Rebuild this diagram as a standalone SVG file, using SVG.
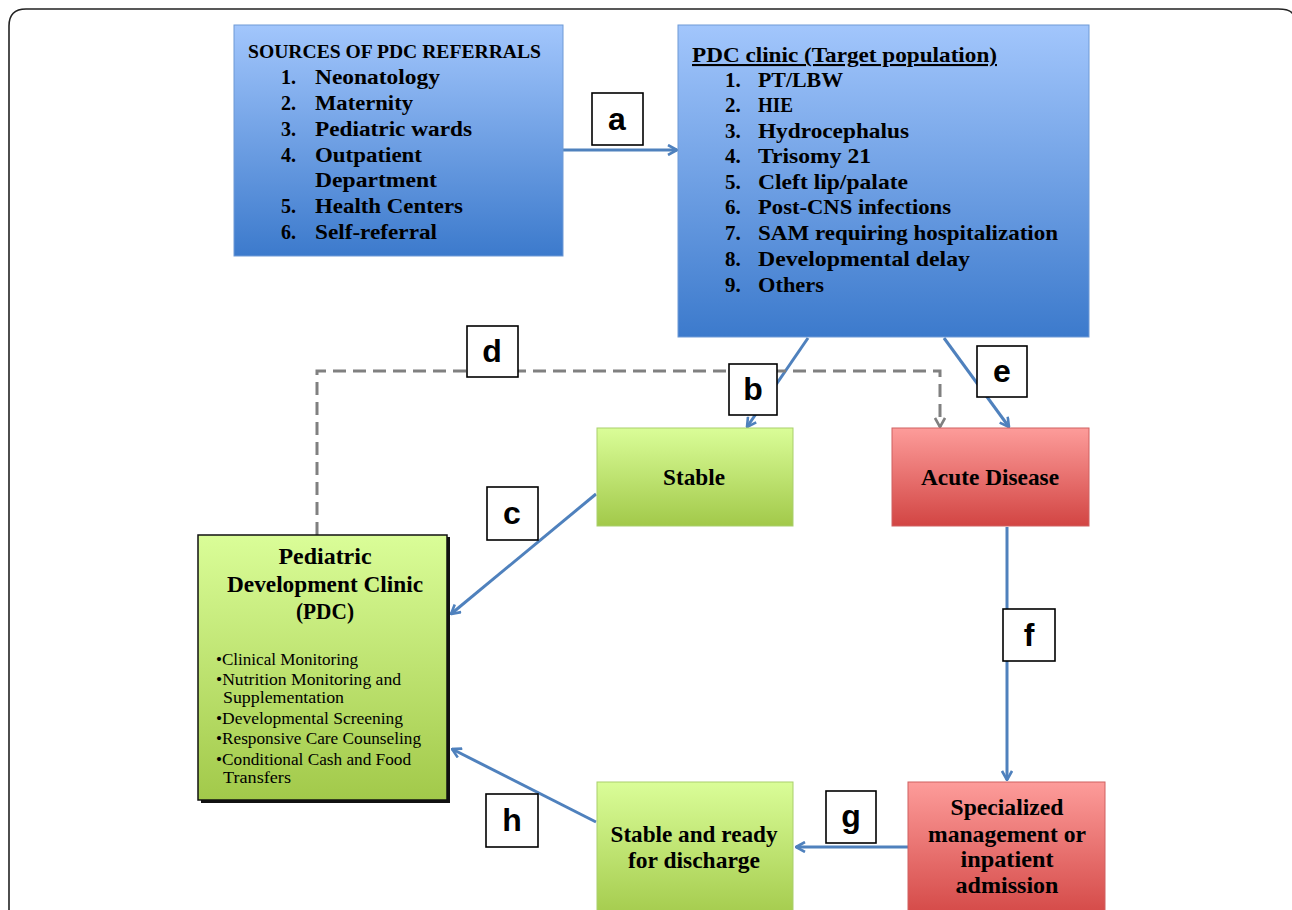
<svg xmlns="http://www.w3.org/2000/svg" width="1292" height="910" viewBox="0 0 1292 910">
<defs>
<linearGradient id="gBlue" x1="0" y1="0" x2="0" y2="1"><stop offset="0" stop-color="#a2c6fc"/><stop offset="1" stop-color="#3c7acc"/></linearGradient>
<linearGradient id="gGreen" x1="0" y1="0" x2="0" y2="1"><stop offset="0" stop-color="#dafd98"/><stop offset="1" stop-color="#a2c94a"/></linearGradient>
<linearGradient id="gRed" x1="0" y1="0" x2="0" y2="1"><stop offset="0" stop-color="#fd9c9a"/><stop offset="1" stop-color="#d24543"/></linearGradient>
<marker id="arrB" viewBox="0 0 12 12" refX="11" refY="6" markerWidth="12" markerHeight="12" markerUnits="userSpaceOnUse" orient="auto"><polyline points="2,1 11,6 2,11" fill="none" stroke="#4f81bd" stroke-width="2.6"/></marker>
<marker id="arrG" viewBox="0 0 12 12" refX="11" refY="6" markerWidth="12" markerHeight="12" markerUnits="userSpaceOnUse" orient="auto"><polyline points="2,1 11,6 2,11" fill="none" stroke="#808080" stroke-width="2.6"/></marker>
</defs>
<style>
.t{font-family:"Liberation Serif",serif;font-weight:bold;fill:#000}
.s{font-family:"Liberation Serif",serif;fill:#000;font-size:16px}
.lbl{font-family:"Liberation Sans",Arial,sans-serif;font-weight:bold;font-size:32px;fill:#000;text-anchor:middle}
.lb{fill:#fff;stroke:#000;stroke-width:1.6}
.con{fill:none;stroke:#4f81bd;stroke-width:3;marker-end:url(#arrB)}
.dash{fill:none;stroke:#808080;stroke-width:3;stroke-dasharray:13 7;marker-end:url(#arrG)}
</style>
<rect width="1292" height="910" fill="#fff"/>
<path d="M9,912 V26 Q9,9 26,9 H1278 Q1290,9 1293,14" fill="none" stroke="#222" stroke-width="1.6"/>

<g id="connectors">
<line class="con" x1="563" y1="150" x2="677" y2="150"/>
<line class="con" x1="808" y1="338" x2="747" y2="427"/>
<line class="con" x1="944" y1="338" x2="1009" y2="427"/>
<polyline class="dash" points="317,535 317,371 940,371 940,427"/>
<line class="con" x1="596" y1="494" x2="451" y2="614"/>
<line class="con" x1="1007" y1="527" x2="1007" y2="780"/>
<line class="con" x1="908" y1="847" x2="796" y2="847"/>
<line class="con" x1="596" y1="822" x2="452" y2="749"/>
</g>

<g id="sources">
<rect x="234" y="25" width="329" height="231" fill="url(#gBlue)" stroke="#6e9ad6" stroke-width="1"/>
<text class="t" font-size="19" x="248" y="58" textLength="293" lengthAdjust="spacingAndGlyphs">SOURCES OF PDC REFERRALS</text>
<g class="t" font-size="20">
<text x="281" y="84">1.</text><text x="315" y="84" textLength="125" lengthAdjust="spacingAndGlyphs">Neonatology</text>
<text x="281" y="110">2.</text><text x="315" y="110" textLength="98" lengthAdjust="spacingAndGlyphs">Maternity</text>
<text x="281" y="136">3.</text><text x="315" y="136" textLength="157" lengthAdjust="spacingAndGlyphs">Pediatric wards</text>
<text x="281" y="162">4.</text><text x="315" y="162" textLength="107" lengthAdjust="spacingAndGlyphs">Outpatient</text>
<text x="315" y="187" textLength="122" lengthAdjust="spacingAndGlyphs">Department</text>
<text x="281" y="213">5.</text><text x="315" y="213" textLength="148" lengthAdjust="spacingAndGlyphs">Health Centers</text>
<text x="281" y="239">6.</text><text x="315" y="239" textLength="122" lengthAdjust="spacingAndGlyphs">Self-referral</text>
</g>
</g>

<g id="clinic">
<rect x="678" y="25" width="411" height="312" fill="url(#gBlue)" stroke="#6e9ad6" stroke-width="1"/>
<text class="t" font-size="21" x="692" y="62" text-decoration="underline" textLength="305" lengthAdjust="spacingAndGlyphs">PDC clinic (Target population)</text>
<g class="t" font-size="21">
<text x="725" y="87">1.</text><text x="758" y="87" textLength="85" lengthAdjust="spacingAndGlyphs">PT/LBW</text>
<text x="725" y="112">2.</text><text x="758" y="112" textLength="35" lengthAdjust="spacingAndGlyphs">HIE</text>
<text x="725" y="138">3.</text><text x="758" y="138" textLength="151" lengthAdjust="spacingAndGlyphs">Hydrocephalus</text>
<text x="725" y="163">4.</text><text x="758" y="163" textLength="113" lengthAdjust="spacingAndGlyphs">Trisomy 21</text>
<text x="725" y="189">5.</text><text x="758" y="189" textLength="150" lengthAdjust="spacingAndGlyphs">Cleft lip/palate</text>
<text x="725" y="214">6.</text><text x="758" y="214" textLength="193" lengthAdjust="spacingAndGlyphs">Post-CNS infections</text>
<text x="725" y="240">7.</text><text x="758" y="240" textLength="300" lengthAdjust="spacingAndGlyphs">SAM requiring hospitalization</text>
<text x="725" y="266">8.</text><text x="758" y="266" textLength="212" lengthAdjust="spacingAndGlyphs">Developmental delay</text>
<text x="725" y="292">9.</text><text x="758" y="292" textLength="66" lengthAdjust="spacingAndGlyphs">Others</text>
</g>
</g>

<g id="stable">
<rect x="597" y="428" width="196" height="98" fill="url(#gGreen)" stroke="#a9cf6c" stroke-width="1"/>
<text class="t" font-size="23" x="694" y="485" text-anchor="middle" textLength="62" lengthAdjust="spacingAndGlyphs">Stable</text>
</g>

<g id="acute">
<rect x="892" y="428" width="197" height="98" fill="url(#gRed)" stroke="#d06060" stroke-width="1"/>
<text class="t" font-size="23" x="990" y="485" text-anchor="middle" textLength="138" lengthAdjust="spacingAndGlyphs">Acute Disease</text>
</g>

<g id="pdc">
<rect x="201" y="537" width="249" height="266" fill="#111"/>
<rect x="198" y="535" width="249" height="265" fill="url(#gGreen)" stroke="#111" stroke-width="1.5"/>
<g class="t" font-size="23" text-anchor="middle">
<text x="325" y="564" textLength="93" lengthAdjust="spacingAndGlyphs">Pediatric</text>
<text x="325" y="592" textLength="196" lengthAdjust="spacingAndGlyphs">Development Clinic</text>
<text x="325" y="619" textLength="58" lengthAdjust="spacingAndGlyphs">(PDC)</text>
</g>
<text class="s" x="216" y="665" textLength="142" lengthAdjust="spacingAndGlyphs">•Clinical Monitoring</text>
<text class="s" x="216" y="685" textLength="185" lengthAdjust="spacingAndGlyphs">•Nutrition Monitoring and</text>
<text class="s" x="223" y="703" textLength="121" lengthAdjust="spacingAndGlyphs">Supplementation</text>
<text class="s" x="216" y="724" textLength="187" lengthAdjust="spacingAndGlyphs">•Developmental Screening</text>
<text class="s" x="216" y="744" textLength="205" lengthAdjust="spacingAndGlyphs">•Responsive Care Counseling</text>
<text class="s" x="216" y="765" textLength="195" lengthAdjust="spacingAndGlyphs">•Conditional Cash and Food</text>
<text class="s" x="223" y="783" textLength="68" lengthAdjust="spacingAndGlyphs">Transfers</text>
</g>

<g id="discharge">
<rect x="597" y="782" width="196" height="140" fill="url(#gGreen)" stroke="#a9cf6c" stroke-width="1"/>
<text class="t" font-size="23" x="694" y="842" text-anchor="middle" textLength="167" lengthAdjust="spacingAndGlyphs">Stable and ready</text>
<text class="t" font-size="23" x="694" y="868" text-anchor="middle" textLength="132" lengthAdjust="spacingAndGlyphs">for discharge</text>
</g>

<g id="specialized">
<rect x="908" y="782" width="197" height="140" fill="url(#gRed)" stroke="#d06060" stroke-width="1"/>
<g class="t" font-size="23" text-anchor="middle">
<text x="1007" y="815" textLength="113" lengthAdjust="spacingAndGlyphs">Specialized</text>
<text x="1007" y="842" textLength="158" lengthAdjust="spacingAndGlyphs">management or</text>
<text x="1007" y="867" textLength="93" lengthAdjust="spacingAndGlyphs">inpatient</text>
<text x="1007" y="893" textLength="103" lengthAdjust="spacingAndGlyphs">admission</text>
</g>
</g>

<g id="labels">
<rect class="lb" x="592" y="93" width="51" height="52"/><text class="lbl" x="617" y="130">a</text>
<rect class="lb" x="729" y="364" width="48" height="51"/><text class="lbl" x="753" y="400">b</text>
<rect class="lb" x="487" y="487" width="51" height="53"/><text class="lbl" x="512" y="524">c</text>
<rect class="lb" x="467" y="326" width="51" height="51"/><text class="lbl" x="492" y="362">d</text>
<rect class="lb" x="977" y="346" width="50" height="51"/><text class="lbl" x="1002" y="382">e</text>
<rect class="lb" x="1003" y="609" width="52" height="52"/><text class="lbl" x="1029" y="646">f</text>
<rect class="lb" x="826" y="791" width="50" height="52"/><text class="lbl" x="851" y="827">g</text>
<rect class="lb" x="486" y="794" width="52" height="53"/><text class="lbl" x="512" y="831">h</text>
</g>
</svg>
